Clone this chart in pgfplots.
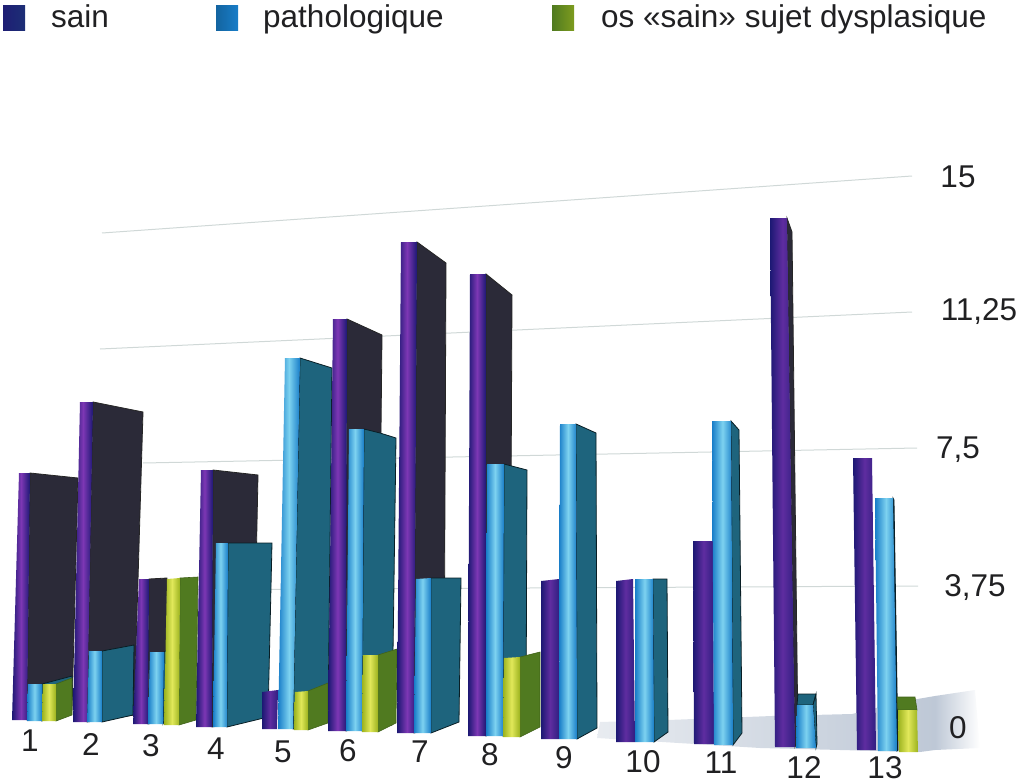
\documentclass[border=0pt]{standalone}
\usepackage{fontspec}
\setmainfont{Liberation Sans}
\usepackage{pgfplots}
\pgfplotsset{compat=1.18}
\definecolor{txt}{RGB}{32,32,34}
\definecolor{gridc}{RGB}{208,216,215}
\definecolor{smudge}{RGB}{190,200,214}
\definecolor{sideD}{RGB}{43,42,56}
\definecolor{sideB}{RGB}{30,100,125}
\definecolor{sideG}{RGB}{80,122,32}
\definecolor{pEdge}{RGB}{28,24,115}
\definecolor{pMid}{RGB}{125,55,180}
\definecolor{pFlat}{RGB}{95,45,160}
\definecolor{bEdge}{RGB}{24,125,200}
\definecolor{bMid}{RGB}{125,210,240}
\definecolor{gEdge}{RGB}{155,178,30}
\definecolor{gMid}{RGB}{225,232,90}
\pgfplotsset{
  pface/.style={draw=none,left color=pEdge,right color=pEdge,middle color=pMid},
  pflat/.style={draw=none,left color=pEdge,right color=pEdge!70!pFlat,middle color=pFlat},
  bface/.style={draw=none,left color=bEdge,right color=bEdge,middle color=bMid},
  gface/.style={draw=none,left color=gEdge,right color=gEdge,middle color=gMid},
  dside/.style={fill=sideD,draw=black!85,line width=0.8pt},
  bside/.style={fill=sideB,draw=black!70!sideB,line width=0.8pt},
  gside/.style={fill=sideG,draw=sideG!80!black,line width=0.6pt},
  gridl/.style={draw=gridc,line width=1pt},
}
\begin{document}
\begin{tikzpicture}
\begin{axis}[
  scale only axis,
  width=1021pt,height=784pt,
  xmin=0,xmax=1021,ymin=0,ymax=784,
  y dir=reverse,
  hide axis,
  clip=false,
]
\path (axis cs:0,0) rectangle (axis cs:1021,784);
% gridlines 15, 11.25, 7.5, 3.75
\addplot[gridl] coordinates {(102,233)(912,176)};
\addplot[gridl] coordinates {(100,349)(912,312)};
\addplot[gridl] coordinates {(143,463)(917,448)};
\addplot[gridl] coordinates {(140,590)(918,586)};

% floor smudge at 0
\addplot[draw=none,left color=smudge!35!white,right color=smudge] coordinates {(597,738)(600,722)(668,720)(772,716)(852,714)(900,702)(935,696)(935,750)(920,752)(760,748)} -- cycle;
\addplot[draw=none,left color=smudge,right color=white] coordinates {(935,696)(975,690)(980,748)(935,750)} -- cycle;

% 1
\addplot[dside] coordinates {(30,473)(78,478)(72,710)(27,720)} -- cycle;
\addplot[pface] coordinates {(19,473)(30,473)(27,720)(12,720)} -- cycle;
\addplot[bside] coordinates {(42,684)(72,676)(72,700)(42,721)} -- cycle;
\addplot[bface] coordinates {(28,684)(42,684)(42,721)(27,721)} -- cycle;
\addplot[gside] coordinates {(56,684)(72,678)(72,715)(56,721)} -- cycle;
\addplot[gface] coordinates {(43,684)(56,684)(56,721)(42,721)} -- cycle;
% 2
\addplot[dside] coordinates {(93,402)(143,412)(134,715)(87,722)} -- cycle;
\addplot[pface] coordinates {(80,402)(93,402)(87,722)(73,722)} -- cycle;
\addplot[bside] coordinates {(102,651)(134,645)(133,715)(102,722)} -- cycle;
\addplot[bface] coordinates {(89,651)(102,651)(102,722)(87,722)} -- cycle;
% 3
\addplot[dside] coordinates {(149,579)(167,578)(165,720)(148,724)} -- cycle;
\addplot[pface] coordinates {(139,579)(149,579)(148,724)(133,724)} -- cycle;
\addplot[bside] coordinates {(164,652)(167,650)(165,720)(163,724)} -- cycle;
\addplot[bface] coordinates {(150,652)(164,652)(163,724)(148,724)} -- cycle;
\addplot[gside] coordinates {(180,578)(198,577)(196,720)(179,725)} -- cycle;
\addplot[gface] coordinates {(167,579)(180,578)(179,725)(164,725)} -- cycle;
% 4
\addplot[dside] coordinates {(213,470)(258,475)(253,720)(212,727)} -- cycle;
\addplot[pface] coordinates {(201,470)(213,470)(212,727)(196,727)} -- cycle;
\addplot[bside] coordinates {(228,543)(272,543)(268,717)(227,727)} -- cycle;
\addplot[bface] coordinates {(216,543)(228,543)(227,727)(213,727)} -- cycle;
% 5
\addplot[pflat] coordinates {(262,692)(278,690)(277,729)(262,729)} -- cycle;
\addplot[bside] coordinates {(300,358)(332,368)(328,722)(293,729)} -- cycle;
\addplot[bface] coordinates {(285,358)(300,358)(293,729)(278,729)} -- cycle;
\addplot[gside] coordinates {(308,691)(328,683)(328,723)(308,730)} -- cycle;
\addplot[gface] coordinates {(295,692)(308,691)(308,730)(294,730)} -- cycle;
% 6
\addplot[dside] coordinates {(347,319)(382,335)(378,722)(346,731)} -- cycle;
\addplot[pface] coordinates {(333,319)(347,319)(346,731)(328,731)} -- cycle;
\addplot[bside] coordinates {(364,429)(380,433)(396,438)(392,725)(362,731)} -- cycle;
\addplot[bface] coordinates {(349,429)(364,429)(362,731)(346,731)} -- cycle;
\addplot[gside] coordinates {(378,655)(397,649)(396,723)(378,732)} -- cycle;
\addplot[gface] coordinates {(363,655)(378,655)(378,732)(362,732)} -- cycle;
% 7
\addplot[dside] coordinates {(417,242)(446,263)(444,725)(414,733)} -- cycle;
\addplot[pface] coordinates {(401,242)(417,242)(414,733)(397,733)} -- cycle;
\addplot[bside] coordinates {(431,578)(461,578)(459,722)(431,733)} -- cycle;
\addplot[bface] coordinates {(416,579)(431,578)(431,733)(414,733)} -- cycle;
% 8
\addplot[dside] coordinates {(486,274)(512,295)(510,725)(486,736)} -- cycle;
\addplot[pface] coordinates {(470,274)(486,274)(486,736)(468,736)} -- cycle;
\addplot[bside] coordinates {(504,464)(527,470)(526,725)(503,736)} -- cycle;
\addplot[bface] coordinates {(487,464)(504,464)(503,736)(486,736)} -- cycle;
\addplot[gside] coordinates {(520,657)(540,652)(540,727)(520,737)} -- cycle;
\addplot[gface] coordinates {(504,658)(520,657)(520,737)(503,737)} -- cycle;
% 9
\addplot[pflat] coordinates {(541,581)(559,579)(559,739)(541,739)} -- cycle;
\addplot[bside] coordinates {(576,424)(596,433)(597,728)(577,739)} -- cycle;
\addplot[bface] coordinates {(560,424)(576,424)(577,739)(559,739)} -- cycle;
% 10
\addplot[pflat] coordinates {(616,581)(633,579)(635,742)(616,742)} -- cycle;
\addplot[bside] coordinates {(653,579)(667,579)(668,732)(654,742)} -- cycle;
\addplot[bface] coordinates {(635,579)(653,579)(654,742)(635,742)} -- cycle;
% 11
\addplot[pflat] coordinates {(693,541)(713,541)(714,744)(694,744)} -- cycle;
\addplot[bside] coordinates {(731,421)(739,430)(742,733)(733,745)} -- cycle;
\addplot[bface] coordinates {(712,421)(731,421)(733,745)(714,745)} -- cycle;
% 12
\addplot[dside] coordinates {(787,218)(792,232)(798,740)(795,747)} -- cycle;
\addplot[pflat] coordinates {(770,218)(787,218)(795,747)(775,747)} -- cycle;
\addplot[bside] coordinates {(797,705)(813,705)(816,694)(798,694)} -- cycle;
\addplot[bside] coordinates {(813,705)(816,694)(817,744)(816,748)} -- cycle;
\addplot[bface] coordinates {(797,705)(813,705)(816,748)(796,748)} -- cycle;
% 13
\addplot[pflat] coordinates {(853,458)(872,458)(876,750)(857,750)} -- cycle;
\addplot[bside] coordinates {(893,498)(894,500)(898,750)(897,751)} -- cycle;
\addplot[bface] coordinates {(875,498)(893,498)(897,751)(878,751)} -- cycle;
\addplot[gside] coordinates {(898,710)(917,710)(915,697)(897,697)} -- cycle;
\addplot[gface] coordinates {(898,710)(917,710)(918,752)(899,752)} -- cycle;

% legend
\addplot[draw=none,left color=sideD!70!blue,right color=pEdge!70!sideB] coordinates {(3,6)(25,6)(25,31)(3,31)} -- cycle;
\addplot[draw=none,left color=bEdge!80!black,right color=bEdge] coordinates {(216,6)(238,6)(238,31)(216,31)} -- cycle;
\addplot[draw=none,left color=sideG,right color=gEdge!60!sideG] coordinates {(552,6)(574,6)(574,31)(552,31)} -- cycle;

\begin{scope}[every node/.style={text=txt,font=\fontsize{31.5}{37}\selectfont,inner sep=0pt}]
\node[anchor=base west] at (axis cs:51,28) {sain};
\node[anchor=base west] at (axis cs:263,28) {pathologique};
\node[anchor=base west] at (axis cs:601,28) {os «sain» sujet dysplasique};
\node at (axis cs:958,177) {15};
\node at (axis cs:979,312) {11,25};
\node at (axis cs:958,450) {7,5};
\node at (axis cs:975,588) {3,75};
\node at (axis cs:958,728) {0};
\node at (axis cs:30,741) {1};
\node at (axis cs:91,744) {2};
\node at (axis cs:151,746) {3};
\node at (axis cs:216,749) {4};
\node at (axis cs:283,752) {5};
\node at (axis cs:348,751) {6};
\node at (axis cs:420,752) {7};
\node at (axis cs:490,755) {8};
\node at (axis cs:564,758) {9};
\node at (axis cs:643,762) {10};
\node at (axis cs:721,763) {11};
\node at (axis cs:804,767) {12};
\node at (axis cs:885,768) {13};
\end{scope}
\end{axis}
\end{tikzpicture}
\end{document}
